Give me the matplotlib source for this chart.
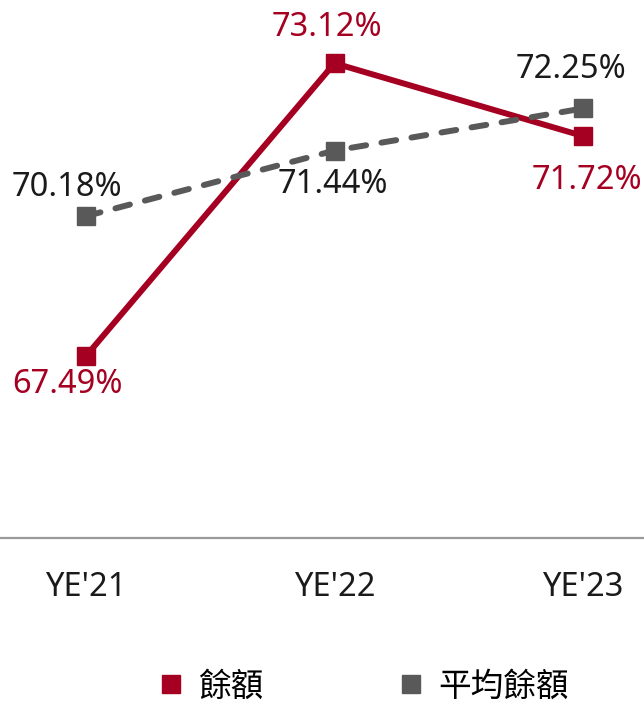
import matplotlib
matplotlib.use('Agg')
import matplotlib.pyplot as plt
from matplotlib.lines import Line2D

plt.rcParams['font.family'] = ['Noto Sans', 'Noto Sans CJK TC']

# ── Data ──────────────────────────────────────────────────────────────────────
categories = ["YE'21", "YE'22", "YE'23"]
balance = [67.49, 73.12, 71.72]        # 餘額
avg_balance = [70.18, 71.44, 72.25]    # 平均餘額
series_names = ['餘額', '平均餘額']

RED = '#A50021'
GREY = '#595959'

# label offsets (pixels) for each point
red_offsets = [(-19, -28), (-8, 36), (4, -44)]
grey_offsets = [(-19, 29), (-2, -34), (-12, 39)]

fig = plt.figure(figsize=(6.44, 7.02), dpi=100)
ax = fig.add_axes([0, 1 - 538 / 702, 1, 538 / 702])

x = list(range(len(categories)))
ax.plot(x, balance, color=RED, linewidth=4.3, marker='s', markersize=12.5,
        solid_joinstyle='miter', zorder=3)
ax.plot(x, avg_balance, color=GREY, linewidth=4.3, marker='s', markersize=12.5,
        linestyle=(0, (2.5, 2.6)), dash_capstyle='round', zorder=4)

for xi, v, off in zip(x, balance, red_offsets):
    ax.annotate(f'{v:.2f}%', (xi, v), xytext=off, textcoords='offset pixels',
                ha='center', va='center', fontsize=23.5, color=RED)
for xi, v, off in zip(x, avg_balance, grey_offsets):
    ax.annotate(f'{v:.2f}%', (xi, v), xytext=off, textcoords='offset pixels',
                ha='center', va='center', fontsize=23.5, color='#1a1a1a')

ax.set_xlim(-86 / 248.5, (644 - 86) / 248.5)
ax.set_ylim(63.99, 63.99 + 538 / 52.0)
ax.set_xticks(x)
ax.set_xticklabels(categories, fontsize=23.5, color='#1a1a1a')
ax.tick_params(axis='x', length=0, pad=24)
ax.set_yticks([])
for s in ['top', 'left', 'right']:
    ax.spines[s].set_visible(False)
ax.spines['bottom'].set_color('#9a9a9a')
ax.spines['bottom'].set_linewidth(1.6)

handles = [Line2D([], [], color=RED, marker='s', linestyle='none', markersize=13),
           Line2D([], [], color=GREY, marker='s', linestyle='none', markersize=13)]
fig.legend(handles, series_names, loc='center', bbox_to_anchor=(0.562, 1 - 687 / 702),
           ncol=2, frameon=False, fontsize=23.5, handletextpad=0.34,
           columnspacing=4.0, handlelength=1.0, borderpad=0.1)

fig.savefig('out.png', dpi=100)
